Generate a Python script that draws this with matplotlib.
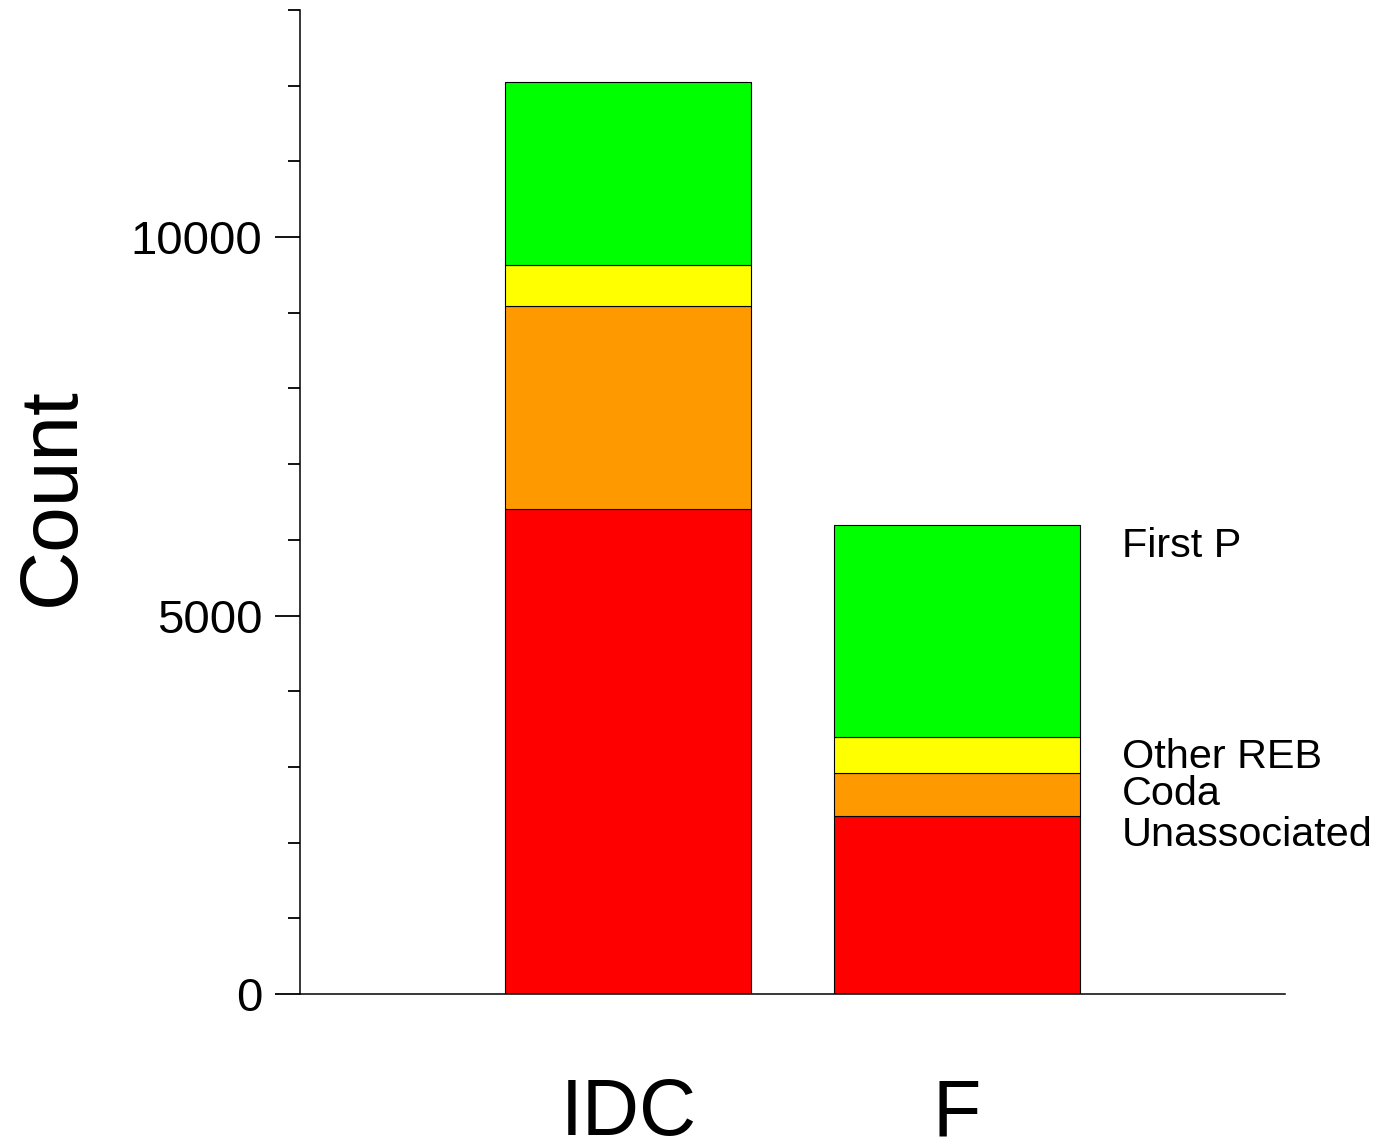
import matplotlib
matplotlib.use("Agg")
import matplotlib.pyplot as plt
from matplotlib.ticker import MultipleLocator

plt.rcParams['font.family'] = ['Liberation Sans', 'DejaVu Sans']

categories = ["IDC", "F"]
series_names = ["Unassociated", "Coda", "Other REB", "First P"]
unassociated = [6407, 2351]
coda = [2682, 568]
other_reb = [541, 476]
first_p = [2418, 2801]
colors = ["#FF0000", "#FF9900", "#FFFF00", "#00FF00"]
# label heights (data units) for the right-side labels
label_y = [1955, 2497, 2985, 5773]

fig = plt.figure(figsize=(13.77, 11.43), dpi=100)
ax = fig.add_axes([300/1377, 149/1143, 985/1377, 984/1143])

xpos = [1, 2]
bottom = [0, 0]
for vals, col in zip([unassociated, coda, other_reb, first_p], colors):
    ax.bar(xpos, vals, width=0.75, bottom=bottom, color=col,
           edgecolor="black", linewidth=0.8)
    bottom = [b + v for b, v in zip(bottom, vals)]

for name, y in zip(series_names, label_y):
    ax.text(2.503, y, name, fontsize=29.8, ha="left", va="baseline")

ax.set_xlim(0, 3)
ax.set_ylim(0, 13000)
ax.set_xticks(xpos)
ax.set_xticklabels(categories, fontsize=57)
ax.tick_params(axis="x", length=0, pad=60)
ax.yaxis.set_major_locator(MultipleLocator(5000))
ax.yaxis.set_minor_locator(MultipleLocator(1000))
ax.tick_params(axis="y", which="major", length=18, width=1.3, labelsize=34, pad=9)
ax.tick_params(axis="y", which="minor", length=9, width=1.3)
for s in ["top", "right"]:
    ax.spines[s].set_visible(False)
for s in ["left", "bottom"]:
    ax.spines[s].set_linewidth(1.1)

ax.set_ylabel("Count", fontsize=59)
ax.yaxis.set_label_coords(-0.212, 0.505)

fig.savefig("out.png", dpi=100)
